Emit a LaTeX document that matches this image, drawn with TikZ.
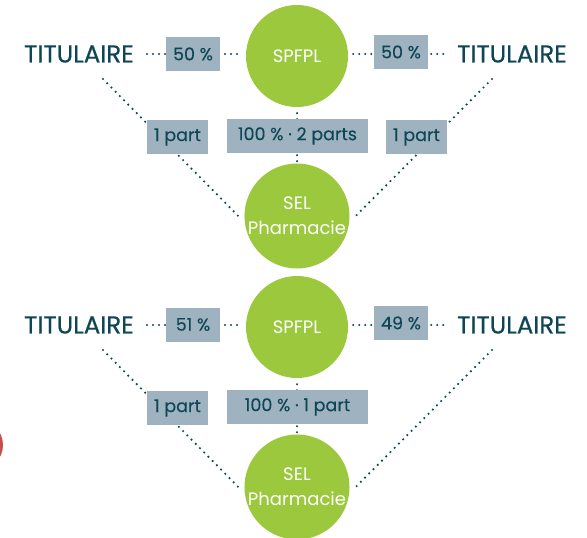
\documentclass[tikz,border=0pt]{standalone}
\usepackage{fontspec}
\setmainfont{Poppins}
\newfontfamily\titfont[FakeBold=0.5]{Poppins}
\newfontfamily\boxfont[FakeBold=0.2]{Poppins}
\definecolor{vert}{HTML}{9BC83C}
\definecolor{gris}{HTML}{9EB3BF}
\definecolor{petrole}{HTML}{0E4656}
\begin{document}
\begin{tikzpicture}[x=1pt,y=-1pt,
    circ/.style={circle, fill=vert, minimum size=102pt, inner sep=0pt, text=white,
        align=center, font=\fontsize{18}{25}\selectfont},
    titu/.style={text=petrole, inner sep=4pt, font=\titfont\fontsize{24.5}{28}\selectfont},
    pct/.style={fill=gris, text=petrole, minimum height=34pt, inner sep=2pt,
        font=\boxfont\fontsize{17.5}{20}\selectfont},
    dots/.style={petrole, line width=2.4pt, line cap=round, dash pattern=on 0pt off 6pt}]
    \useasboundingbox (0,0) rectangle (587,538);
    % morceau rouge au bord gauche
    \begin{scope}
        \clip (0,0) rectangle (587,538);
        \fill[red!70!black, opacity=0.7] (-22,445) circle (25);
    \end{scope}
    % premier montage : 50 % / 50 %
    \node[circ] (spfplA) at (297,56) {SPFPL};
    \node[circ] (selA) at (297,216) {SEL\\Pharmacie};
    \node[titu] (titLA) at (79,54) {TITULAIRE};
    \node[titu] (titRA) at (512,54) {TITULAIRE};
    \coordinate (dLA) at (103,79);
    \coordinate (dRA) at (492,79);
    \draw[dots, shorten <=9pt, shorten >=8pt] (titLA.east) -- (titLA.east -| spfplA.west);
    \draw[dots, shorten <=5pt, shorten >=9pt] (spfplA.east |- titRA.west) -- (titRA.west);
    \draw[dots] (dLA) -- ([xshift=-6pt]selA.west);
    \draw[dots] (dRA) -- ([xshift=6pt]selA.east);
    \draw[dots, shorten <=6pt] (spfplA.south) -- (selA.north);
    \node[pct, minimum width=54pt] (pLA) at (193,54) {50 \%};
    \node[pct, minimum width=54pt] (pRA) at (401,52) {50 \%};
    \node[pct, minimum width=61pt] (partLA) at (177.5,137) {1 part};
    \node[pct, minimum width=61pt] (partRA) at (416.5,137) {1 part};
    \node[pct, minimum width=141pt] (totA) at (297.5,136) {100 \% · 2 parts};
    % second montage : 51 % / 49 %
    \node[circ] (spfplB) at (297,327) {SPFPL};
    \node[circ] (selB) at (297,487) {SEL\\Pharmacie};
    \node[titu] (titLB) at (79,325) {TITULAIRE};
    \node[titu] (titRB) at (512,325) {TITULAIRE};
    \coordinate (dLB) at (103,350);
    \coordinate (dRB) at (492,350);
    \draw[dots, shorten <=9pt, shorten >=8pt] (titLB.east) -- (titLB.east -| spfplB.west);
    \draw[dots, shorten <=5pt, shorten >=9pt] (spfplB.east |- titRB.west) -- (titRB.west);
    \draw[dots] (dLB) -- ([xshift=-6pt]selB.west);
    \draw[dots] (dRB) -- ([xshift=6pt]selB.east);
    \draw[dots, shorten <=6pt] (spfplB.south) -- (selB.north);
    \node[pct, minimum width=54pt] (pLB) at (193,324.5) {51 \%};
    \node[pct, minimum width=54pt] (pRB) at (401,323) {49 \%};
    \node[pct, minimum width=61pt] (partLB) at (177.5,408) {1 part};
    \node[pct, minimum width=141pt] (totB) at (297.5,407) {100 \% · 1 part};
\end{tikzpicture}
\end{document}
